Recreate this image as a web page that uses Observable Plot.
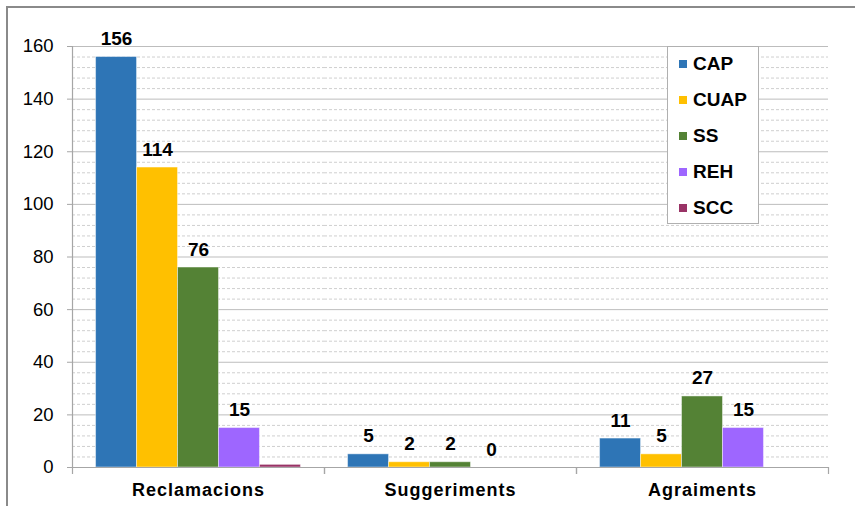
<!DOCTYPE html>
<html>
<head>
<meta charset="utf-8">
<script src="https://cdn.jsdelivr.net/npm/d3@7"></script>
<script src="https://cdn.jsdelivr.net/npm/@observablehq/plot@0.6"></script>
<style>
  html, body { margin: 0; padding: 0; background: #fff; }
  #wrap { position: relative; width: 855px; height: 506px; overflow: hidden; font-family: "Liberation Sans", Arial, sans-serif; }
  #frame { position: absolute; left: 6px; top: 6px; width: 900px; height: 600px; border-left: 2px solid #8a8a8a; border-top: 2px solid #8a8a8a; pointer-events: none; }
  #legend { position: absolute; left: 667px; top: 46px; width: 92px; height: 178px; background: #fff; border: 1px solid #b0b0b0; box-sizing: border-box; }
  .item { position: absolute; left: 11px; font-weight: bold; font-size: 19px; color: #000; line-height: 20px; }
  .sw { display: inline-block; width: 8px; height: 8px; margin-right: 6px; vertical-align: 2px; }
</style>
</head>
<body>
<div id="wrap">
  <div id="chart"></div>
  <div id="frame"></div>
  <div id="legend"></div>
</div>
<script>
const categories = ["Reclamacions", "Suggeriments", "Agraiments"];
const series = ["CAP", "CUAP", "SS", "REH", "SCC"];
const colors = ["#2E75B6", "#FFC000", "#548235", "#9E66FF", "#993366"];
const values = {
  CAP:  [156, 5, 11],
  CUAP: [114, 2, 5],
  SS:   [76, 2, 27],
  REH:  [15, 0, 15],
  SCC:  [1, 0, 0]
};
const labelledSeries = ["CAP", "CUAP", "SS", "REH"];
const yTicks = [0, 20, 40, 60, 80, 100, 120, 140, 160];
const yMinorTicks = d3.range(0, 161, 4).filter(v => v % 20 !== 0);

const rows = [];
categories.forEach((c, ci) => {
  series.forEach((s, si) => {
    rows.push({category: c, series: s, si, value: values[s][ci]});
  });
});
const labelRows = rows.filter(d => labelledSeries.includes(d.series));
const pad = 0.575;
const edges = categories.flatMap(c => [{category: c, x: -pad}, {category: c, x: series.length + pad}]);

const chart = Plot.plot({
  width: 855,
  height: 506,
  marginLeft: 72,
  marginRight: 27,
  marginTop: 46,
  marginBottom: 39,
  style: {fontFamily: "Liberation Sans, Arial, sans-serif", background: "transparent"},
  fx: {domain: categories, padding: 0, label: null},
  x: {domain: [-pad, series.length + pad], axis: null},
  y: {domain: [0, 160], ticks: yTicks, label: null},
  color: {domain: series, range: colors},
  marks: [
    Plot.ruleY(yMinorTicks, {stroke: "#cfcfcf", strokeDasharray: "3,2", strokeWidth: 1}),
    Plot.ruleY(yTicks, {stroke: "#bdbdbd", strokeWidth: 1}),
    Plot.rectY(rows, {fx: "category", x1: "si", x2: d => d.si + 1, y: "value", fill: "series", stroke: "#ffffff", strokeOpacity: 0.45, strokeWidth: 1}),
    Plot.text(labelRows, {fx: "category", x: d => d.si + 0.5, y: "value", text: d => String(d.value), dy: -12, lineAnchor: "bottom", fontSize: 19, fontWeight: "bold", fill: "#000"}),
    Plot.ruleY([0], {stroke: "#a6a6a6", strokeWidth: 1.2}),
    Plot.ruleX(edges, {fx: "category", x: "x", y1: 0, y2: 0, insetBottom: -7, stroke: "#a6a6a6", strokeWidth: 1.2}),
    Plot.ruleX([{category: categories[0], x: -pad}], {fx: "category", x: "x", y1: 0, y2: 160, stroke: "#a6a6a6", strokeWidth: 1.2}),
    Plot.axisY({ticks: yTicks, tickSize: 5, tickPadding: 14, fontSize: 18.5, stroke: "#a6a6a6", color: "#000", label: null}),
    Plot.axisFx({anchor: "bottom", tickSize: 0, tickPadding: 16, fontSize: 18, fontWeight: "bold", label: null})
  ]
});
document.getElementById("chart").appendChild(chart);

d3.select(chart).selectAll("g[aria-label='fx-axis tick label']").style("letter-spacing", "1px");
d3.select(chart).selectAll("g[aria-label='y-axis tick label'] text").attr("fill", "#000");

const legend = document.getElementById("legend");
series.forEach((s, i) => {
  const div = document.createElement("div");
  div.className = "item";
  div.style.top = (7 + i * 36) + "px";
  div.innerHTML = `<span class="sw" style="background:${colors[i]}"></span>${s}`;
  legend.appendChild(div);
});
</script>
</body>
</html>
